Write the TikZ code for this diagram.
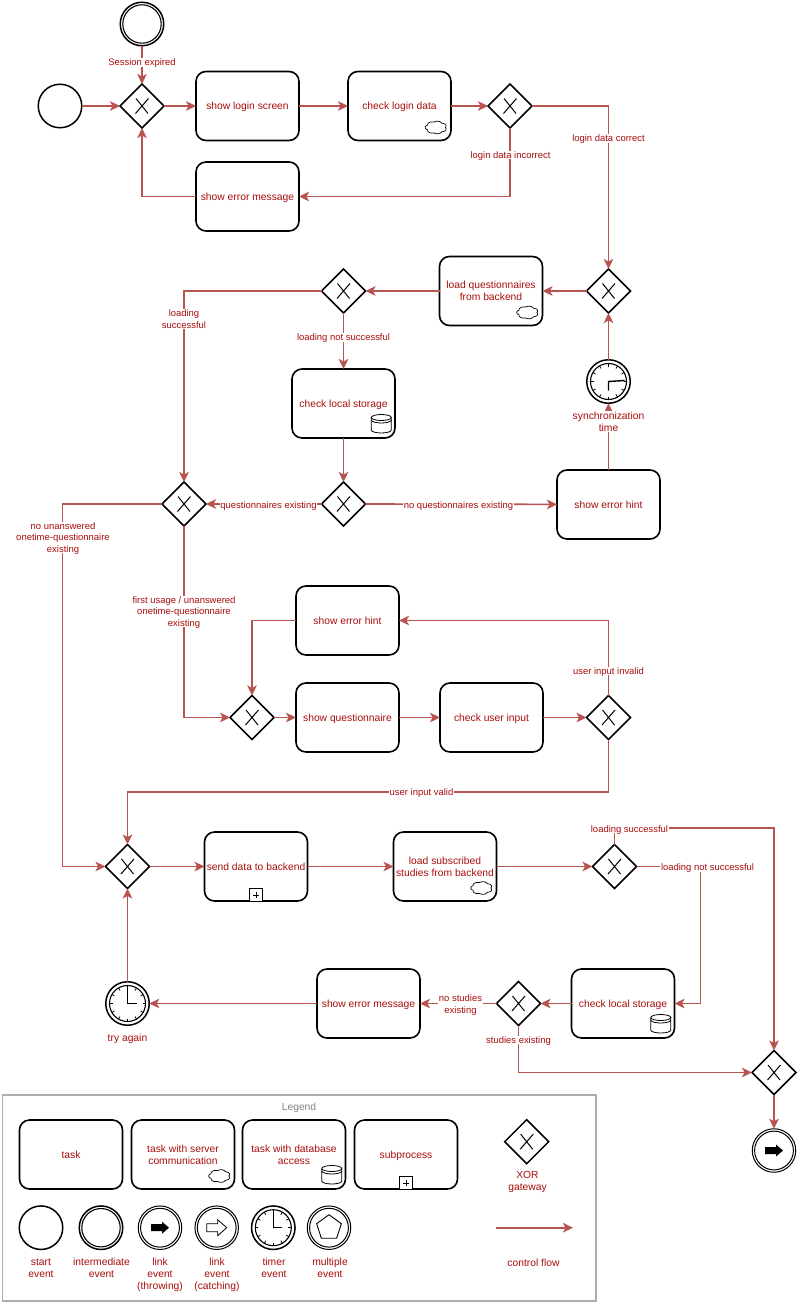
\documentclass[tikz,border=0pt]{standalone}
\usepackage{fontspec}
\setmainfont{Liberation Sans}
\usetikzlibrary{arrows.meta,shapes.geometric}
\definecolor{flowred}{HTML}{B85450}
\definecolor{textred}{HTML}{A80C0C}
\tikzset{
  base/.style={outer sep=0pt,inner sep=0pt,align=center,text=textred,text depth=0pt,font=\fontsize{10.3}{12}\selectfont},
  lbl/.style={base,fill=white,inner sep=0.6pt,font=\fontsize{9.45}{11.7}\selectfont},
  flow/.style={draw=flowred,line width=1.7pt,-{Stealth[length=10pt,width=9.5pt,inset=2.5pt]}},
  task/.style={base,draw=black,line width=1.6pt,rounded corners=10pt,minimum width=103pt,minimum height=69pt},
  gateway/.style={base,diamond,aspect=1,draw=black,line width=1.5pt,minimum width=44pt,minimum height=44pt,
    path picture={
      \draw[line width=1pt,shift={(path picture bounding box.center)}]
        (-6,-7.5) -- (6,7.5) (6.5,-7.5) -- (-6.5,7.5);}},
  startevent/.style={base,circle,draw=black,line width=1.5pt,minimum size=43.5pt},
  midevent/.style={startevent,path picture={
      \draw[line width=1.1pt,shift={(path picture bounding box.center)}] (0,0) circle (19.2);}},
  linkthrow/.style={startevent,line width=1pt,path picture={
      \begin{scope}[shift={(path picture bounding box.center)}]
        \draw[line width=1pt] (0,0) circle (19.4);
        \fill[black] (-9,-3.5) -- (2,-3.5) -- (2,-6) -- (9,0) -- (2,6) -- (2,3.5) -- (-9,3.5) -- cycle;
      \end{scope}}},
  linkcatch/.style={startevent,line width=1pt,path picture={
      \begin{scope}[shift={(path picture bounding box.center)}]
        \draw[line width=1pt] (0,0) circle (19.4);
        \draw[line width=0.8pt] (-10,-4) -- (1,-4) -- (1,-8) -- (10,0) -- (1,8) -- (1,4) -- (-10,4) -- cycle;
      \end{scope}}},
  multievent/.style={startevent,line width=1pt,path picture={
      \begin{scope}[shift={(path picture bounding box.center)}]
        \draw[line width=1pt] (0,0) circle (19.4);
        \draw[line width=0.9pt] (90:-13) -- (162:-13) -- (234:-13) -- (306:-13) -- (18:-13) -- cycle;
      \end{scope}}},
  timerevent/.style 2 args={startevent,path picture={
      \begin{scope}[shift={(path picture bounding box.center)}]
        \draw[line width=1.1pt] (0,0) circle (18);
        \foreach \a in {0,30,...,330} \draw[line width=0.8pt] (\a:15) -- (\a:18);
        \draw[line width=1.4pt] (#1) -- (0,0) -- (#2);
      \end{scope}}},
}
\begin{document}
\begin{tikzpicture}[x=1pt,y=-1pt]
  \useasboundingbox (0,0) rectangle (800,1305);
  % legend frame
  \draw[draw=black!32,line width=1.2pt] (2.5,1095) rectangle (596,1301);
  \node[base,text=black!50] (legendtitle) at (299,1107) {Legend};

  % login
  \node[startevent] (start) at (60,106) {};
  \node[midevent] (expired) at (142,24) {};
  \node[gateway] (gwlogin) at (142,106) {};
  \node[task] (loginscreen) at (247.5,106) {show login screen};
  \node[task] (checklogin) at (399.5,106) {check login data};
  \node[gateway] (gwcheck) at (510,106) {};
  \node[task] (loginerror) at (247.5,196.5) {show error message};

  % questionnaires
  \node[gateway] (gwsync) at (608.5,291) {};
  \node[task] (loadquest) at (491,291) {load questionnaires\\from backend};
  \node[gateway] (gwload) at (343.5,291) {};
  \node[task] (storage) at (343.5,403.5) {check local storage};
  \node[gateway] (gwstorage) at (343.5,504) {};
  \node[gateway] (gwexist) at (184,504) {};
  \node[task] (hint) at (608.5,504.5) {show error hint};
  \node[timerevent={16,-1}{0,9}] (synctimer) at (608.5,381.5) {};

  % filling in
  \node[task] (inputhint) at (347.5,620.5) {show error hint};
  \node[gateway] (gwfill) at (252,717.5) {};
  \node[task] (quest) at (347.5,717.5) {show questionnaire};
  \node[task] (checkinput) at (491.5,717.5) {check user input};
  \node[gateway] (gwinput) at (608.5,717.5) {};

  % studies
  \node[gateway] (gwsend) at (127.5,866.5) {};
  \node[task] (senddata) at (256,866.5) {send data to backend};
  \node[task] (loadstudies) at (445,866.5) {load subscribed\\studies from backend};
  \node[gateway] (gwstudies) at (614.5,866.5) {};
  \node[task] (storagetwo) at (623,1003.5) {check local storage};
  \node[gateway] (gwlocal) at (518.5,1003.5) {};
  \node[task] (studyerror) at (368.5,1003.5) {show error message};
  \node[timerevent={0,-15}{9,0}] (againtimer) at (127.5,1003.5) {};
  \node[gateway] (gwend) at (774,1072.5) {};
  \node[linkthrow] (finish) at (774,1150.5) {};

  \coordinate (bendexist) at (62.5,504);
  \coordinate (bendvalid) at (608.5,792);
  \coordinate (bendsuccess) at (614.5,828);
  \coordinate (bendfail) at (700.5,866.5);

  % control flow
  \draw[flow] (start) -- (gwlogin);
  \draw[flow] (expired) -- (gwlogin);
  \draw[flow] (gwlogin) -- (loginscreen);
  \draw[flow] (loginscreen) -- (checklogin);
  \draw[flow] (checklogin) -- (gwcheck);
  \draw[flow] (gwcheck.east) -| (gwsync.north);
  \draw[flow] (gwcheck.south) |- (loginerror.east);
  \draw[flow] (loginerror.west) -| (gwlogin.south);
  \draw[flow] (gwsync) -- (loadquest);
  \draw[flow] (loadquest) -- (gwload);
  \draw[flow] (gwload.west) -| (gwexist.north);
  \draw[flow] (gwload) -- (storage);
  \draw[flow] (storage) -- (gwstorage);
  \draw[flow] (gwstorage) -- (gwexist);
  \draw[flow] (gwstorage) -- (hint);
  \draw[flow] (hint) -- (synctimer);
  \draw[flow] (synctimer) -- (gwsync);
  \draw[flow] (gwexist.west) -- (bendexist) |- (gwsend.west);
  \draw[flow] (gwexist.south) |- (gwfill.west);
  \draw[flow] (gwfill) -- (quest);
  \draw[flow] (quest) -- (checkinput);
  \draw[flow] (checkinput) -- (gwinput);
  \draw[flow] (gwinput.north) |- (inputhint.east);
  \draw[flow] (inputhint.west) -| (gwfill.north);
  \draw[flow] (gwinput.south) -- (bendvalid) -| (gwsend.north);
  \draw[flow] (gwsend) -- (senddata);
  \draw[flow] (senddata) -- (loadstudies);
  \draw[flow] (loadstudies) -- (gwstudies);
  \draw[flow] (gwstudies.north) -- (bendsuccess) -| (gwend.north);
  \draw[flow] (gwstudies.east) -- (bendfail) |- (storagetwo.east);
  \draw[flow] (storagetwo) -- (gwlocal);
  \draw[flow] (gwlocal) -- (studyerror);
  \draw[flow] (gwlocal.south) |- (gwend.west);
  \draw[flow] (studyerror) -- (againtimer);
  \draw[flow] (againtimer) -- (gwsend);
  \draw[flow] (gwend) -- (finish);

  % flow labels
  \node[lbl] (lblexpired) at (142,62.5) {Session expired};
  \node[lbl] (lblincorrect) at (510.5,155) {login data incorrect};
  \node[lbl] (lblcorrect) at (608.5,138.5) {login data correct};
  \node[lbl] (lblloadok) at (184,319) {loading\\successful};
  \node[lbl] (lblloadfail) at (343.5,337.5) {loading not successful};
  \node[lbl,font=\fontsize{10.3}{12}\selectfont] (lblsync) at (608.5,421.5) {synchronization\\time};
  \node[lbl] (lblquestyes) at (268.5,505) {questionnaires existing};
  \node[lbl] (lblquestno) at (458.5,505) {no questionnaires existing};
  \node[lbl] (lblnone) at (63,537.5) {no unanswered\\onetime-questionnaire\\existing};
  \node[lbl] (lblfirst) at (184,611.5) {first usage / unanswered\\onetime-questionnaire\\existing};
  \node[lbl] (lblinvalid) at (608.5,671) {user input invalid};
  \node[lbl] (lblvalid) at (421.5,792.5) {user input valid};
  \node[lbl] (lblstudyok) at (629.5,829) {loading successful};
  \node[lbl] (lblstudyfail) at (707.5,867.5) {loading not successful};
  \node[lbl] (lblnostudy) at (460.5,1004) {no studies\\existing};
  \node[lbl] (lblstudies) at (518.5,1040) {studies existing};
  \node[base] (lblagain) at (127.5,1037.5) {try again};

  % legend
  \node[task] (legtask) at (71,1154.5) {task};
  \node[task] (legserver) at (183,1154.5) {task with server\\communication};
  \node[task] (legdb) at (294,1154.5) {task with database\\access};
  \node[task] (legsub) at (406,1154.5) {subprocess};
  \node[gateway] (leggateway) at (526.7,1141.7) {};
  \node[base] (lblxor) at (527.5,1181) {XOR\\gateway};
  \node[startevent] (legstart) at (41,1227.7) {};
  \node[midevent] (legmid) at (101,1227.7) {};
  \node[linkthrow] (legthrow) at (160,1227.7) {};
  \node[linkcatch] (legcatch) at (216.7,1227.7) {};
  \node[timerevent={0,-15}{9,0}] (legtimer) at (273.3,1227.7) {};
  \node[multievent] (legmulti) at (329,1227.7) {};
  \node[base] (lblstart) at (41,1268) {start\\event};
  \node[base] (lblmid) at (101.5,1268) {intermediate\\event};
  \node[base] (lblthrow) at (160,1274) {link\\event\\(throwing)};
  \node[base] (lblcatch) at (217,1274) {link\\event\\(catching)};
  \node[base] (lbltimer) at (274,1268) {timer\\event};
  \node[base] (lblmulti) at (330,1268) {multiple\\event};
  \coordinate (legfrom) at (496,1227.7);
  \coordinate (legto) at (573,1227.7);
  \draw[flow] (legfrom) -- (legto);
  \node[base] (lblflow) at (533.5,1262.5) {control flow};

  % task markers
  \foreach \t in {checklogin,loadquest,loadstudies,legserver} {
    \draw[line width=0.7pt,shift={(\t.south east)}]
      plot[domain=0:360,samples=121]
      ({-15+9.3*(1+0.16*abs(sin(3.5*\x)))*cos(\x)},{-13+5.5*(1+0.16*abs(sin(3.5*\x)))*sin(\x)}) -- cycle;
  }
  \foreach \t in {storage,storagetwo,legdb} {
    \begin{scope}[line width=0.8pt,shift={(\t.south east)}]
      \draw (-23.7,-20.5) -- (-23.7,-8) arc[start angle=180,end angle=360,x radius=10,y radius=-3] -- (-3.7,-20.5);
      \draw (-13.7,-20.5) ellipse (10 and 3);
      \draw (-23.7,-18) arc[start angle=180,end angle=360,x radius=10,y radius=-3];
    \end{scope}
  }
  \foreach \t in {senddata,legsub} {
    \begin{scope}[line width=0.8pt,shift={(\t.south)}]
      \draw[fill=white] (-6.3,-12.4) rectangle (6.3,0.2);
      \draw (-3,-6.1) -- (3,-6.1) (0,-9.1) -- (0,-3.1);
    \end{scope}
  }
\end{tikzpicture}
\end{document}
